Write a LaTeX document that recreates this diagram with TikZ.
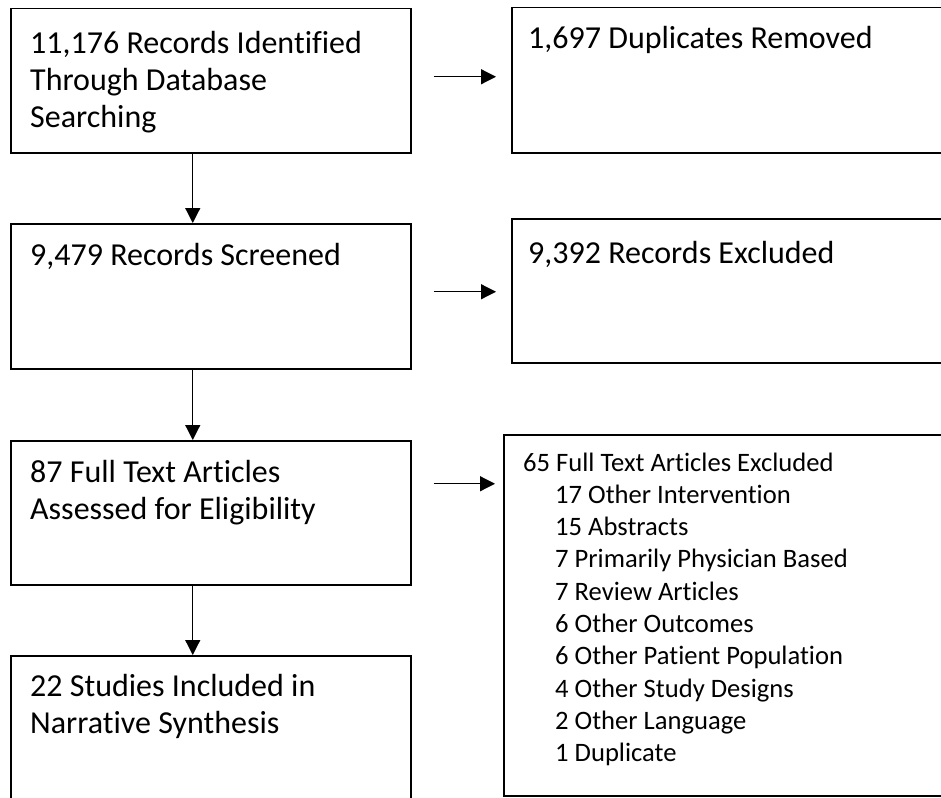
\documentclass[tikz,border=0pt]{standalone}
\usepackage{fontspec}
\setmainfont{Carlito}[Ligatures={NoCommon,NoContextual}]
\usetikzlibrary{arrows.meta,positioning}
\begin{document}
\begin{tikzpicture}[x=1pt,y=-1pt,
  box/.style={draw,line width=1.5pt,anchor=north west,inner sep=0pt},
  txt/.style={inner sep=0pt,font=\fontsize{32}{37}\selectfont},
  small/.style={font=\fontsize{26.6}{32.3}\selectfont},
  flow/.style={line width=1.2pt,-{Triangle[length=15pt,width=15pt]}}]
\clip (0,0) rectangle (941,797);
% left column
\node[box,minimum width=400pt,minimum height=144pt] (rec) at (10,8) {};
\node[box,minimum width=400pt,minimum height=145pt] (scr) at (10,223) {};
\node[box,minimum width=400pt,minimum height=144pt] (full) at (10,440) {};
\node[box,minimum width=400pt,minimum height=170pt] (inc) at (10,655) {};
% right column, cut off at the edge
\node[box,minimum width=470pt,minimum height=145pt] (dup) at (511,7) {};
\node[box,minimum width=470pt,minimum height=144pt] (excl) at (511,218) {};
\node[box,minimum width=480pt,minimum height=361pt] (ftx) at (503,434) {};
% texts
\node[txt,below right=46pt and 20pt of rec.north west,anchor=base west] (recT)
  {\parbox[t]{380pt}{11,176 Records Identified\\Through Database\\Searching}};
\node[txt,below right=42pt and 20pt of scr.north west,anchor=base west] (scrT)
  {\parbox[t]{380pt}{9,479 Records Screened}};
\node[txt,below right=42pt and 20pt of full.north west,anchor=base west] (fullT)
  {\parbox[t]{380pt}{87 Full Text Articles\\Assessed for Eligibility}};
\node[txt,below right=41pt and 20pt of inc.north west,anchor=base west] (incT)
  {\parbox[t]{380pt}{22 Studies Included in\\Narrative Synthesis}};
\node[txt,below right=42pt and 17pt of dup.north west,anchor=base west] (dupT)
  {\parbox[t]{420pt}{1,697 Duplicates Removed}};
\node[txt,below right=45pt and 17pt of excl.north west,anchor=base west] (exclT)
  {\parbox[t]{420pt}{9,392 Records Excluded}};
\node[txt,small,below right=37pt and 20pt of ftx.north west,anchor=base west] (ftxT)
  {\parbox[t]{420pt}{65 Full Text Articles Excluded\\
   \hspace*{32pt}17 Other Intervention\\
   \hspace*{32pt}15 Abstracts\\
   \hspace*{32pt}7 Primarily Physician Based\\
   \hspace*{32pt}7 Review Articles\\
   \hspace*{32pt}6 Other Outcomes\\
   \hspace*{32pt}6 Other Patient Population\\
   \hspace*{32pt}4 Other Study Designs\\
   \hspace*{32pt}2 Other Language\\
   \hspace*{32pt}1 Duplicate}};
% arrows
\draw[flow] ([xshift=-18pt]rec.south) -- ([xshift=-18pt]scr.north);
\draw[flow] ([xshift=-18pt]scr.south) -- ([xshift=-18pt]full.north);
\draw[flow] ([xshift=-18pt]full.south) -- ([xshift=-18pt]inc.north);
\draw[flow] ([xshift=22pt,yshift=4pt]rec.east) -- ([xshift=-15pt,yshift=4pt]rec.east -| dup.west);
\draw[flow] ([xshift=22pt,yshift=4.5pt]scr.east) -- ([xshift=-15pt,yshift=4.5pt]scr.east -| excl.west);
\draw[flow] ([xshift=22pt,yshift=29pt]full.east) -- ([xshift=-8pt,yshift=29pt]full.east -| ftx.west);
\end{tikzpicture}
\end{document}
